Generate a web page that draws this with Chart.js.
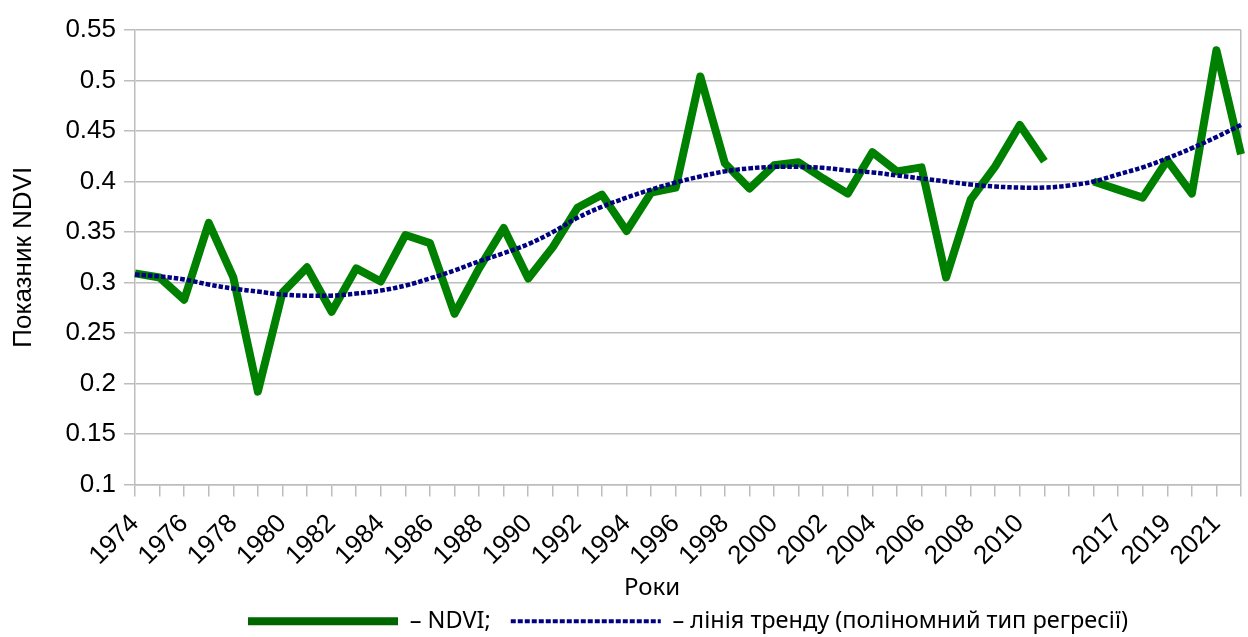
<!DOCTYPE html>
<html lang="uk">
<head>
<meta charset="utf-8">
<title>Показник NDVI</title>
<script src="https://cdn.jsdelivr.net/npm/chart.js@4.4.1/dist/chart.umd.min.js"></script>
<style>
    html, body { margin: 0; padding: 0; background: #fff; }
    #wrap { width: 1248px; height: 637px; position: relative; }
</style>
</head>
<body>
<div id="wrap"><canvas id="ndviChart"></canvas></div>
<script>
// Years (one empty slot between 2011 and 2016)
const years = ['1974', '1975', '1976', '1977', '1978', '1979', '1980', '1981', '1982', '1983',
    '1984', '1985', '1986', '1987', '1988', '1989', '1990', '1991', '1992', '1993',
    '1994', '1995', '1996', '1997', '1998', '1999', '2000', '2001', '2002', '2003',
    '2004', '2005', '2006', '2007', '2008', '2009', '2010', '2011', '',
    '2016', '2017', '2018', '2019', '2020', '2021', '2022'];

// NDVI values
const ndvi = [0.309, 0.305, 0.283, 0.359, 0.305, 0.192, 0.290, 0.315, 0.271, 0.314,
    0.301, 0.347, 0.339, 0.269, 0.314, 0.354, 0.304, 0.335, 0.374, 0.387,
    0.351, 0.389, 0.394, 0.504, 0.418, 0.393, 0.416, 0.419, 0.403, 0.388,
    0.429, 0.410, 0.414, 0.305, 0.382, 0.415, 0.456, 0.420, null,
    0.400, 0.392, 0.384, 0.421, 0.388, 0.530, 0.427];

// Polynomial trend line
const trend = [0.308, 0.306, 0.303, 0.298, 0.294, 0.291, 0.288, 0.287, 0.287, 0.289,
    0.292, 0.297, 0.304, 0.312, 0.321, 0.329, 0.338, 0.350, 0.364, 0.375,
    0.384, 0.392, 0.399, 0.405, 0.410, 0.413, 0.4145, 0.4145, 0.4135, 0.411,
    0.409, 0.406, 0.403, 0.400, 0.397, 0.395, 0.394, 0.394, 0.396,
    0.400, 0.407, 0.414, 0.423, 0.433, 0.444, 0.456];

// Y axis tick labels
const yLabels = ['0.1', '0.15', '0.2', '0.25', '0.3', '0.35', '0.4', '0.45', '0.5', '0.55'];

const gridGray = '#bdbdbd';
const axisFont = 'Liberation Sans, Arial, sans-serif';
const textFont = 'Noto Sans, Open Sans, sans-serif';

const ctx = document.getElementById('ndviChart');
const chart = new Chart(ctx, {
    type: 'line',
    data: {
        labels: years,
        datasets: [{
            label: 'лінія тренду (поліномний тип регресії)',
            data: trend,
            borderColor: '#000080',
            borderWidth: 4.5,
            borderDash: [4.5, 2],
            pointRadius: 0,
            tension: 0.4,
            fill: false
        }, {
            label: 'NDVI',
            data: ndvi,
            borderColor: '#008000',
            borderWidth: 8,
            borderJoinStyle: 'round',
            pointRadius: 0,
            tension: 0,
            spanGaps: false,
            fill: false
        }]
    },
    options: {
        responsive: true,
        maintainAspectRatio: false,
        animation: false,
        layout: {
            padding: { top: 30, right: 7, bottom: -6, left: 0 }
        },
        plugins: {
            tooltip: { enabled: false },
            legend: {
                position: 'bottom',
                fullSize: false,
                labels: {
                    usePointStyle: true,
                    pointStyle: 'line',
                    pointStyleWidth: 150,
                    padding: 20,
                    color: '#000',
                    font: { family: textFont, size: 23.5 },
                    generateLabels: () => [{
                        text: '– NDVI;',
                        strokeStyle: '#006600',
                        lineWidth: 8,
                        lineDash: [],
                        pointStyle: 'line',
                        fontColor: '#000',
                        datasetIndex: 1
                    }, {
                        text: '– лінія тренду (поліномний тип регресії)',
                        strokeStyle: '#000080',
                        lineWidth: 4,
                        lineDash: [5, 2],
                        pointStyle: 'line',
                        fontColor: '#000',
                        datasetIndex: 0
                    }]
                }
            }
        },
        scales: {
            x: {
                afterFit: scale => {
                    scale.height = 105;
                    scale.paddingRight = 0;
                },
                grid: {
                    color: c => c.index === years.length - 1 ? gridGray : 'rgba(0,0,0,0)',
                    lineWidth: 1.5,
                    tickColor: gridGray,
                    tickLength: 12
                },
                border: { color: gridGray, width: 1.5 },
                ticks: {
                    autoSkip: false,
                    minRotation: 45,
                    maxRotation: 45,
                    padding: 12,
                    color: '#000',
                    font: { family: axisFont, size: 26 },
                    callback: (val, i) => i % 2 === 0 ? years[i] : ''
                },
                title: {
                    display: true,
                    text: 'Роки\u2003\u2003\u2003',
                    color: '#000',
                    font: { family: textFont, size: 24, lineHeight: 1.2 },
                    padding: { top: 0, bottom: -13 }
                }
            },
            y: {
                min: 0.1,
                max: 0.55,
                afterFit: scale => { scale.width = 135; },
                grid: {
                    color: gridGray,
                    lineWidth: 1.5,
                    tickLength: 11
                },
                border: { color: gridGray, width: 1.5 },
                ticks: {
                    stepSize: 0.05,
                    padding: 8,
                    color: '#000',
                    font: { family: axisFont, size: 26 },
                    callback: (val, i) => yLabels[i]
                },
                title: {
                    display: true,
                    text: 'Показник NDVI',
                    color: '#000',
                    font: { family: axisFont, size: 26, lineHeight: 1.2 },
                    padding: { top: 8, bottom: 0 }
                }
            }
        }
    }
});
</script>
</body>
</html>
